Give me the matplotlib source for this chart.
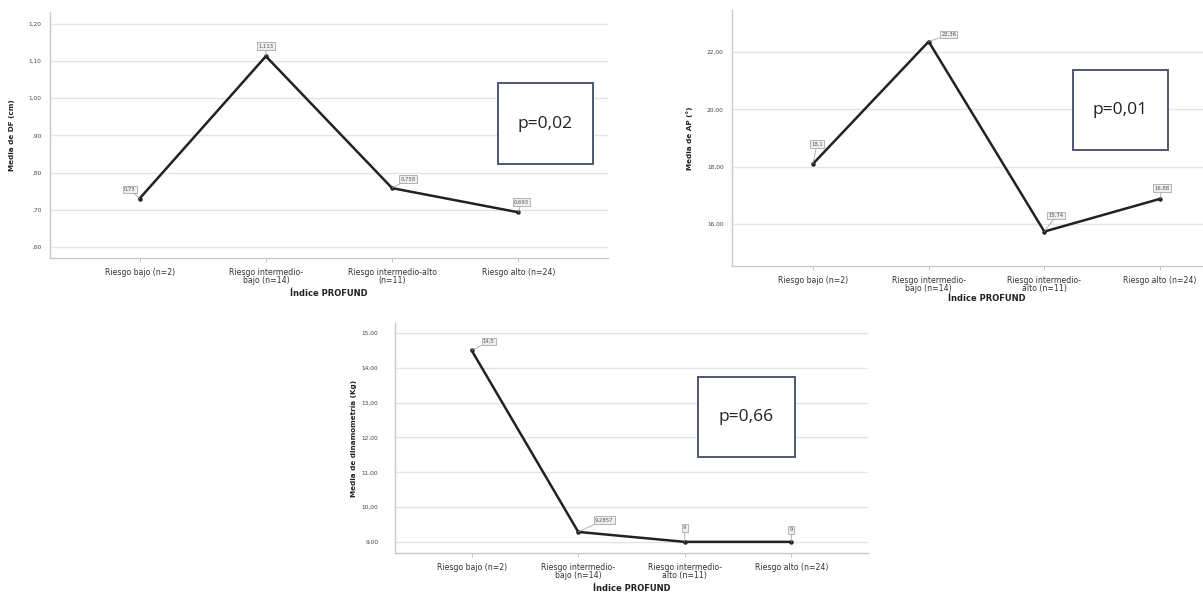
import matplotlib
matplotlib.use("Agg")
import matplotlib.pyplot as plt
from matplotlib.patches import Rectangle

plt.rcParams['font.family'] = ['DejaVu Sans']

W, H = 1203, 593

# ---------------- data ----------------
cats1 = ["Riesgo bajo (n=2)", "Riesgo intermedio-\nbajo (n=14)",
         "Riesgo intermedio-alto\n(n=11)", "Riesgo alto (n=24)"]
cats23 = ["Riesgo bajo (n=2)", "Riesgo intermedio-\nbajo (n=14)",
          "Riesgo intermedio-\nalto (n=11)", "Riesgo alto (n=24)"]

df_vals = [0.73, 1.113, 0.758, 0.693]
df_labels = ["0,73", "1,113", "0,758", "0,693"]
df_ticks = [0.60, 0.70, 0.80, 0.90, 1.00, 1.10, 1.20]
df_ticklabels = [",60", ",70", ",80", ",90", "1,00", "1,10", "1,20"]

ap_vals = [18.1, 22.36, 15.74, 16.88]
ap_labels = ["18,1", "22,36", "15,74", "16,88"]
ap_ticks = [16, 18, 20, 22]
ap_ticklabels = ["16,00", "18,00", "20,00", "22,00"]

din_vals = [14.5, 9.2857, 9.0, 9.0]
din_labels = ["14,5", "9,2857", "9", "9"]
din_ticks = [9, 10, 11, 12, 13, 14, 15]
din_ticklabels = ["9,00", "10,00", "11,00", "12,00", "13,00", "14,00", "15,00"]

p_texts = ["p=0,02", "p=0,01", "p=0,66"]

fig = plt.figure(figsize=(W / 100, H / 100), dpi=100)


def px_axes(left, right, top, bottom):
    return fig.add_axes([left / W, 1 - bottom / H, (right - left) / W, (bottom - top) / H])


def style(ax, cats, ticks, ticklabels, ylim, xlim, ylabel, ypad, ylab_x, xlab_y):
    ax.set_xlim(*xlim)
    ax.set_ylim(*ylim)
    ax.set_xticks(range(len(cats)))
    ax.set_xticklabels(cats, fontsize=5.6, color='#333333', linespacing=0.9)
    ax.set_yticks(ticks)
    ax.set_yticklabels(ticklabels, fontsize=4.2, color='#444444')
    ax.tick_params(axis='y', length=0, pad=ypad)
    ax.tick_params(axis='x', length=3, width=0.6, color='#bbbbbb', pad=4)
    for s in ['top', 'right']:
        ax.spines[s].set_visible(False)
    for s in ['left', 'bottom']:
        ax.spines[s].set_color('#c8c8c8')
        ax.spines[s].set_linewidth(1.0)
    ax.grid(axis='y', color='#e4e4e4', lw=1.0)
    ax.set_axisbelow(True)
    ax.set_ylabel(ylabel, fontsize=5.2, fontweight='bold', color='#222222')
    ax.yaxis.set_label_coords(ylab_x, 0.5)
    ax.set_xlabel("Índice PROFUND", fontsize=6, fontweight='bold', color='#222222')
    ax.xaxis.set_label_coords(0.5, xlab_y)


def draw(ax, vals, labels, offsets):
    x = list(range(len(vals)))
    ax.plot(x, vals, color='#222222', lw=1.8, marker='o', ms=2.2, zorder=3)
    for xi, v, lab, off in zip(x, vals, labels, offsets):
        ax.annotate(lab, (xi, v), xytext=off, textcoords='offset pixels',
                    fontsize=3.8, color='#555555', ha='center', va='center',
                    bbox=dict(boxstyle='square,pad=0.25', fc='#efefef', ec='#999999', lw=0.5),
                    arrowprops=dict(arrowstyle='-', color='#999999', lw=0.5,
                                    shrinkA=0, shrinkB=0),
                    zorder=4)


def pbox(left, right, top, bottom, text):
    fig.patches.append(Rectangle((left / W, 1 - bottom / H), (right - left) / W,
                                 (bottom - top) / H, transform=fig.transFigure,
                                 fill=True, fc='white', ec='#4d5675', lw=1.4, zorder=5))
    fig.text((left + right) / 2 / W, 1 - (top + bottom) / 2 / H, text,
             fontsize=12.5, color='#222222', ha='center', va='center',
             family=['Open Sans', 'DejaVu Sans'], zorder=6)


# Chart 1
ax1 = px_axes(50, 608, 12, 258)
style(ax1, cats1, df_ticks, df_ticklabels, (0.57, 1.232), (-0.71, 3.71),
      "Media de DF (cm)", 6, -0.063, -0.125)
draw(ax1, df_vals, df_labels, [(-10, 9), (0, 10), (16, 9), (3, 10)])

# Chart 2
ax2 = px_axes(732, 1241, 10, 266)
style(ax2, cats23, ap_ticks, ap_ticklabels, (14.54, 23.46), (-0.70, 3.70),
      "Media de AP (°)", 6, -0.077, -0.11)
draw(ax2, ap_vals, ap_labels, [(4, 20), (20, 7), (12, 16), (2, 11)])

# Chart 3
ax3 = px_axes(395, 868, 323, 553)
style(ax3, cats23, din_ticks, din_ticklabels, (8.68, 15.29), (-0.72, 3.72),
      "Media de dinamometría (Kg)", 12, -0.080, -0.135)
draw(ax3, din_vals, din_labels, [(17, 9), (26, 12), (0, 14), (0, 12)])

pbox(498, 593, 83, 164, p_texts[0])
pbox(1073, 1168, 70, 150, p_texts[1])
pbox(698, 795, 377, 457, p_texts[2])

fig.savefig("out.png", dpi=100)
